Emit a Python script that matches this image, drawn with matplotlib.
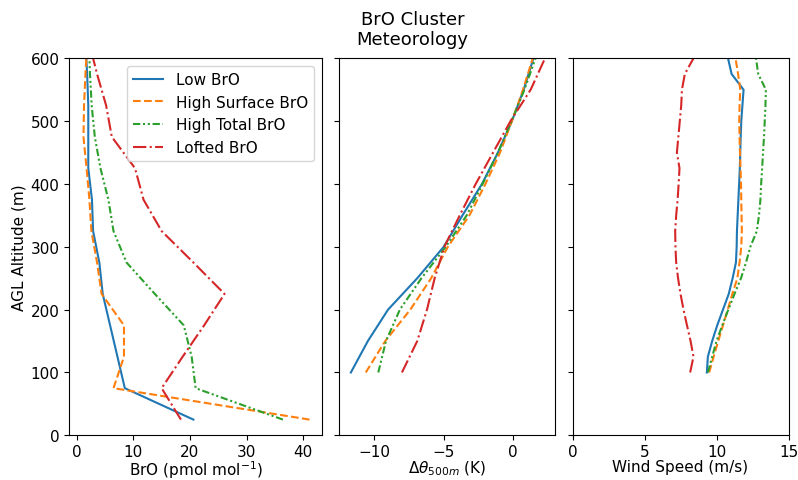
import numpy as np
import matplotlib
matplotlib.use('Agg')
import matplotlib.pyplot as plt

# altitude grids (m AGL)
alt_bro = np.arange(25, 650, 50)
alt_theta = np.arange(100, 650, 50)
alt_wind = np.arange(100, 625, 25)

names = ['Low BrO', 'High Surface BrO', 'High Total BrO', 'Lofted BrO']

# BrO profiles (pmol/mol)
bro_low = [20.6, 8.5, 7.2, 5.9, 4.6, 4.0, 2.9, 2.7, 2.05, 2.05, 2.05, 1.85, 1.55]
bro_surf = [41.1, 6.5, 8.35, 8.35, 4.4, 3.6, 2.6, 2.25, 1.75, 1.2, 1.3, 1.55, 1.85]
bro_total = [36.4, 21.0, 20.3, 18.9, 13.8, 8.8, 6.5, 5.6, 4.2, 3.2, 2.65, 2.35, 2.15]
bro_lofted = [18.4, 15.0, 18.7, 22.5, 26.1, 20.6, 15.0, 11.8, 10.3, 6.2, 5.2, 3.6, 2.2]

# potential temperature relative to 500 m (K)
th_low = [-11.67, -10.45, -9.0, -6.9, -5.0, -3.65, -2.25, -1.1, -0.1, 0.75, 1.45]
th_surf = [-10.6, -9.2, -7.4, -5.9, -4.7, -3.15, -2.0, -0.95, -0.1, 0.7, 1.4]
th_total = [-9.7, -9.15, -8.15, -6.6, -4.85, -3.35, -2.2, -1.1, -0.12, 0.8, 1.6]
th_lofted = [-8.0, -6.9, -6.2, -5.65, -4.95, -3.85, -2.7, -1.45, -0.2, 1.25, 2.28]

# wind speed (m/s)
ws_low = [9.33, 9.4, 9.7, 10.05, 10.45, 10.85, 11.12, 11.35, 11.4, 11.42, 11.47,
          11.52, 11.57, 11.62, 11.65, 11.68, 11.72, 11.8, 11.88, 11.05, 10.8]
ws_surf = [9.49, 9.8, 10.12, 10.45, 10.78, 11.1, 11.45, 11.6, 11.72, 11.76, 11.74,
           11.72, 11.7, 11.67, 11.63, 11.6, 11.58, 11.6, 11.65, 11.5, 11.32]
ws_total = [9.4, 9.7, 10.0, 10.4, 10.82, 11.25, 11.7, 12.05, 12.35, 12.8, 12.95,
            13.05, 13.1, 13.17, 13.23, 13.3, 13.35, 13.4, 13.43, 12.9, 12.74]
ws_lofted = [8.17, 8.4, 8.2, 7.95, 7.71, 7.5, 7.33, 7.2, 7.15, 7.13, 7.2,
             7.3, 7.37, 7.43, 7.25, 7.35, 7.45, 7.55, 7.6, 7.8, 8.4]

colors = ['#1f77b4', '#ff7f0e', '#2ca02c', '#d62728']
styles = [dict(linestyle='-'),
          dict(linestyle='--'),
          dict(linestyle=(0, (3.5, 1.3, 1, 1.3, 1, 1.3))),
          dict(linestyle='-.')]

plt.rcParams['font.size'] = 11
plt.rcParams['xtick.major.pad'] = 2.5

fig = plt.figure(figsize=(7.98, 4.81), dpi=100)
W, H = 798.0, 481.0
bot = 1 - 436.3 / H
top = 1 - 59.3 / H
ax1 = fig.add_axes([69.3 / W, bot, (321.7 - 69.3) / W, top - bot])
ax2 = fig.add_axes([338.5 / W, bot, (555 - 338.5) / W, top - bot], sharey=ax1)
ax3 = fig.add_axes([572.5 / W, bot, (788.5 - 572.5) / W, top - bot], sharey=ax1)

for i, ser in enumerate([bro_low, bro_surf, bro_total, bro_lofted]):
    ax1.plot(ser, alt_bro, color=colors[i], lw=1.5, label=names[i], **styles[i])
for i, ser in enumerate([th_low, th_surf, th_total, th_lofted]):
    ax2.plot(ser, alt_theta, color=colors[i], lw=1.5, **styles[i])
for i, ser in enumerate([ws_low, ws_surf, ws_total, ws_lofted]):
    ax3.plot(ser, alt_wind, color=colors[i], lw=1.5, **styles[i])

ax1.set_ylim(0, 600)
ax1.set_xlim(-1.3, 43.25)
ax1.set_xticks([0, 10, 20, 30, 40])
ax2.set_xlim(-12.56, 3.0)
ax2.set_xticks([-10, -5, 0])
ax3.set_xlim(0, 15)
ax3.set_xticks([0, 5, 10, 15])

ax2.tick_params(labelleft=False)
ax3.tick_params(labelleft=False)

ax1.set_ylabel('AGL Altitude (m)', labelpad=3)
ax1.set_xlabel(r'BrO (pmol mol$^{-1}$)', labelpad=-0.5)
ax2.set_xlabel(r'$\Delta\theta_{500m}$ (K)', labelpad=0)
ax3.set_xlabel('Wind Speed (m/s)', labelpad=0)

ax1.legend(loc='upper right')

fig.text(412.5 / W, 1 - 30 / H, 'BrO Cluster\nMeteorology', ha='center', va='center',
         fontsize=13, linespacing=1.2)

fig.savefig('out.png', dpi=100)
